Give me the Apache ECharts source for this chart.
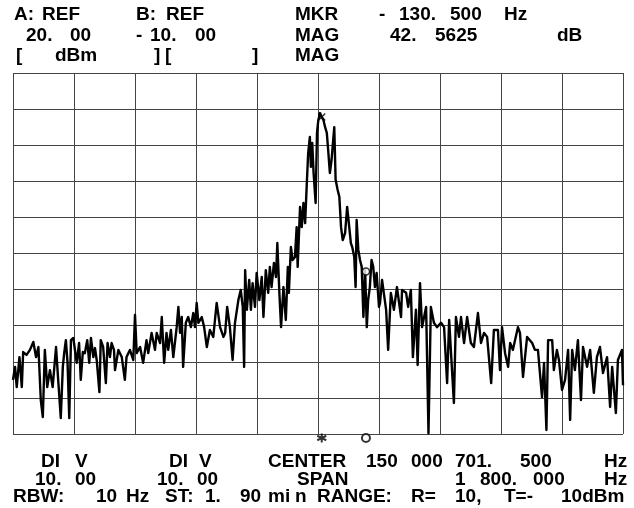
<!DOCTYPE html>
<html>
<head>
<meta charset="utf-8">
<script src="https://cdn.jsdelivr.net/npm/echarts@6/dist/echarts.min.js"></script>
<style>
html,body{margin:0;padding:0;background:#fff;}
#chart{width:634px;height:508px;}
</style>
</head>
<body>
<div id="chart"></div>
<script>
// ---- Axis settings (from the instrument readout) ----
const refLevelA = 20;      // dBm, top of screen
const divA = 10;           // dB / div
const spanHz = 1800;       // span
const mkrOffsetHz = -130.5;
const refMarkerHz = 141.5;  // circle (reference) marker, offset from center

// ---- Trace: frequency offset from center (Hz) and level (dBm) ----
const freqHz = [
-900,-894,-889,-881,-874,-870,-860,-850,-840,-832,-825,-818,-812,-806,-799,-791,-783,-773,-766,-759,-753,-749,-744,-739,-734,-729,-722,-717,-712,-705,-700,-694,-688,-681,-675,-670,-663,-658,-653,-645,-641,-634,-626,-621,-614,-609,-602,
-599,-589,-579,-570,-565,-555,-545,-540,-535,-525,-516,-506,-501,-491,-481,-476,-466,-461,-454,-447,-442,-434,-427,-417,-412,-407,-402,-398,-390,-383,-375,-368,-363,-358,-353,-343,-336,-328,-319,-309,-299,-289,-279,
-274,-268,-260,-252,-245,-235,-228,-222,-218,-215,-210,-203,-198,-193,-186,-181,-173,-166,-161,-154,-147,-142,-137,-130,-124,-120,-114,-109,-102,-95,-89,-86,-80,-75,-68,
-63,-60,-53,-48,-43,-38,-33,-29,-24,-21,-17,-13,-7,-3,1,6,11,16,21,26,30,35,40,48,52,58,63,68,73,80,86,91,97,101,107,111,114,119,124,129,134,139,144,148,153,158,163,168,173,180,
183,189,201,207,215,224,233,245,248,260,266,274,280,289,294,301,307,319,326,333,342,351,363,372,381,387,392,401,407,416,422,431,440,451,460,472,481,490,499,511,519,
531,537,543,552,561,567,575,590,596,605,617,632,640,649,661,667,674,679,691,696,705,711,720,729,738,744,750,758,767,776,782,794,803,814,823,832,841,853,862,868,879,885,897,900
];
const levelDbm = [
-65.0,-61.4,-67.0,-58.7,-67.0,-57.3,-58.1,-56.7,-54.5,-58.7,-55.9,-70.6,-75.3,-56.7,-67.0,-62.3,-67.0,-55.9,-65.9,-75.6,-61.4,-57.6,-54.0,-60.3,-75.6,-54.0,-53.4,-53.1,-60.3,-54.8,-65.0,-57.3,-57.6,-54.0,-60.3,-53.4,-58.7,-56.2,-59.5,-68.4,-54.0,-55.9,-65.9,-54.8,-58.7,-54.8,-56.7,
-62.3,-56.7,-58.7,-65.0,-58.7,-56.7,-59.5,-47.0,-57.6,-55.9,-60.3,-54.0,-57.6,-52.0,-56.7,-52.0,-54.8,-47.6,-60.3,-52.0,-56.7,-51.2,-58.7,-50.4,-44.8,-52.0,-47.6,-61.4,-49.2,-47.6,-50.4,-46.5,-50.4,-43.7,-49.2,-47.6,-50.4,-55.9,-51.2,-53.1,-43.7,-50.4,-53.1,
-52.0,-44.8,-50.4,-59.5,-49.2,-42.9,-40.1,-44.8,-61.4,-34.6,-45.6,-37.3,-45.6,-38.2,-44.8,-35.4,-42.9,-36.5,-47.6,-34.6,-40.9,-33.7,-39.3,-32.6,-36.5,-27.1,-40.9,-50.4,-39.3,-48.4,-33.7,-40.9,-28.2,-31.8,-31.0,
-22.7,-33.7,-17.1,-22.7,-16.0,-21.6,-10.5,-2.2,2.3,-6.0,0.6,-7.7,-16.0,3.4,7.0,8.9,7.8,7.0,5.0,3.4,-1.3,-7.7,-4.1,5.0,-9.6,-12.4,-14.3,-22.7,-26.3,-24.3,-17.1,-21.6,-27.1,-28.2,-31.0,-39.3,-20.7,-29.0,-31.8,-33.7,-47.6,-34.6,-50.4,-42.9,-39.3,-31.8,-33.7,-39.3,-35.4,-44.8,
-43.7,-37.3,-45.6,-56.7,-40.9,-45.6,-39.3,-47.6,-40.1,-40.9,-44.8,-40.1,-58.7,-45.6,-60.9,-38.2,-50.4,-44.8,-79.8,-44.8,-49.2,-50.4,-49.2,-50.4,-65.9,-48.4,-56.7,-71.4,-47.6,-53.1,-47.6,-54.8,-47.6,-54.8,-55.9,-46.5,-54.8,-52.0,-53.1,-65.9,-51.2,
-51.2,-62.3,-50.4,-57.6,-61.4,-54.8,-56.7,-50.4,-52.0,-64.2,-53.1,-54.8,-56.7,-56.7,-69.8,-60.3,-78.9,-54.0,-54.0,-62.3,-56.7,-59.5,-67.8,-65.0,-56.7,-76.1,-56.7,-62.3,-54.0,-70.6,-55.9,-61.4,-56.7,-68.6,-58.7,-55.9,-63.1,-58.7,-72.5,-61.4,-74.2,-59.5,-56.7,-66.5
];
// marker levels on the trace
const mkrLevelDbm = 7.8;
const refMarkerLevelDbm = -35.0;

// ---- Readout words (text only), one list per screen row ----
const headerWords = [
  ["A:", "REF", "B:", "REF", "MKR", "-", "130.", "500", "Hz"],
  ["20.", "00", "-", "10.", "00", "MAG", "42.", "5625", "dB"],
  ["[", "dBm", "]", "[", "]", "MAG"]
];
const footerWords = [
  ["DI", "V", "DI", "V", "CENTER", "150", "000", "701.", "500", "Hz"],
  ["10.", "00", "10.", "00", "SPAN", "1", "800.", "000", "Hz"],
  ["RBW:", "10", "Hz", "ST:", "1.", "90", "mi", "n", "RANGE:", "R=", "10,", "T=-", "10dBm"]
];

// ---- Layout: left x of each word, row centre y ----
const headerX = [
  [14, 42, 136, 166, 295, 379, 399, 450, 504],
  [26, 70, 136, 150, 195, 295, 390, 435, 557],
  [16, 55, 154, 165, 252, 295]
];
const footerX = [
  [41, 75, 169, 199, 268, 366, 411, 455, 520, 604],
  [35, 75, 157, 197, 297, 455, 480, 533, 604],
  [13, 96, 126, 165, 205, 240, 268, 295, 317, 411, 455, 504, 561]
];
const headerY = [15, 36, 56];
const footerY = [462, 480, 497];

const chart = echarts.init(document.getElementById('chart'), null, {renderer:'canvas'});
const FONT = 'bold 19px "Liberation Sans", Arial, sans-serif';

const graphics = [];
function addRows(words, xs, ys){
  words.forEach((row, r) => {
    row.forEach((w, k) => {
      graphics.push({type:'text', x:xs[r][k], y:ys[r], silent:true,
        style:{text:w, font:FONT, fill:'#000', verticalAlign:'middle', align:'left'}});
    });
  });
}
addRows(headerWords, headerX, headerY);
addRows(footerWords, footerX, footerY);

const traceData = freqHz.map((f, i) => [f, levelDbm[i]]);
const yMin = refLevelA - 10*divA;
const mkrHz = refMarkerHz + mkrOffsetHz;

const axisCommon = {
  axisLabel:{show:false}, axisTick:{show:false}, axisLine:{show:false},
  splitLine:{show:true, lineStyle:{color:'#444', width:1}}
};

chart.setOption({
  animation:false,
  backgroundColor:'#fff',
  grid:{left:13, top:73, width:610, height:361},
  xAxis:Object.assign({type:'value', min:-spanHz/2, max:spanHz/2, interval:spanHz/10}, axisCommon),
  yAxis:Object.assign({type:'value', min:yMin, max:refLevelA, interval:divA}, axisCommon),
  graphic:graphics,
  series:[
    {type:'line', data:traceData, showSymbol:false, symbol:'none',
     lineStyle:{color:'#000', width:2.4, join:'round'}, z:3},
    {type:'scatter', data:[[mkrHz, mkrLevelDbm]], symbol:'path://M0,0L10,10M10,0L0,10', symbolSize:7,
     itemStyle:{color:'rgba(0,0,0,0)', borderColor:'#000', borderWidth:1.5}, z:4},
    {type:'scatter', data:[[refMarkerHz, refMarkerLevelDbm]], symbol:'circle', symbolSize:7,
     itemStyle:{color:'#fff', borderColor:'#000', borderWidth:1.5}, z:4},
    {type:'scatter', clip:false, data:[[mkrHz, yMin]], symbol:'path://M5,0L5,10M0,2.5L10,7.5M10,2.5L0,7.5', symbolSize:9, symbolOffset:[0,4],
     itemStyle:{color:'rgba(0,0,0,0)', borderColor:'#000', borderWidth:2}, z:4},
    {type:'scatter', clip:false, data:[[refMarkerHz, yMin]], symbol:'circle', symbolSize:8, symbolOffset:[0,4],
     itemStyle:{color:'#fff', borderColor:'#000', borderWidth:2}, z:4}
  ]
});
</script>
</body>
</html>
